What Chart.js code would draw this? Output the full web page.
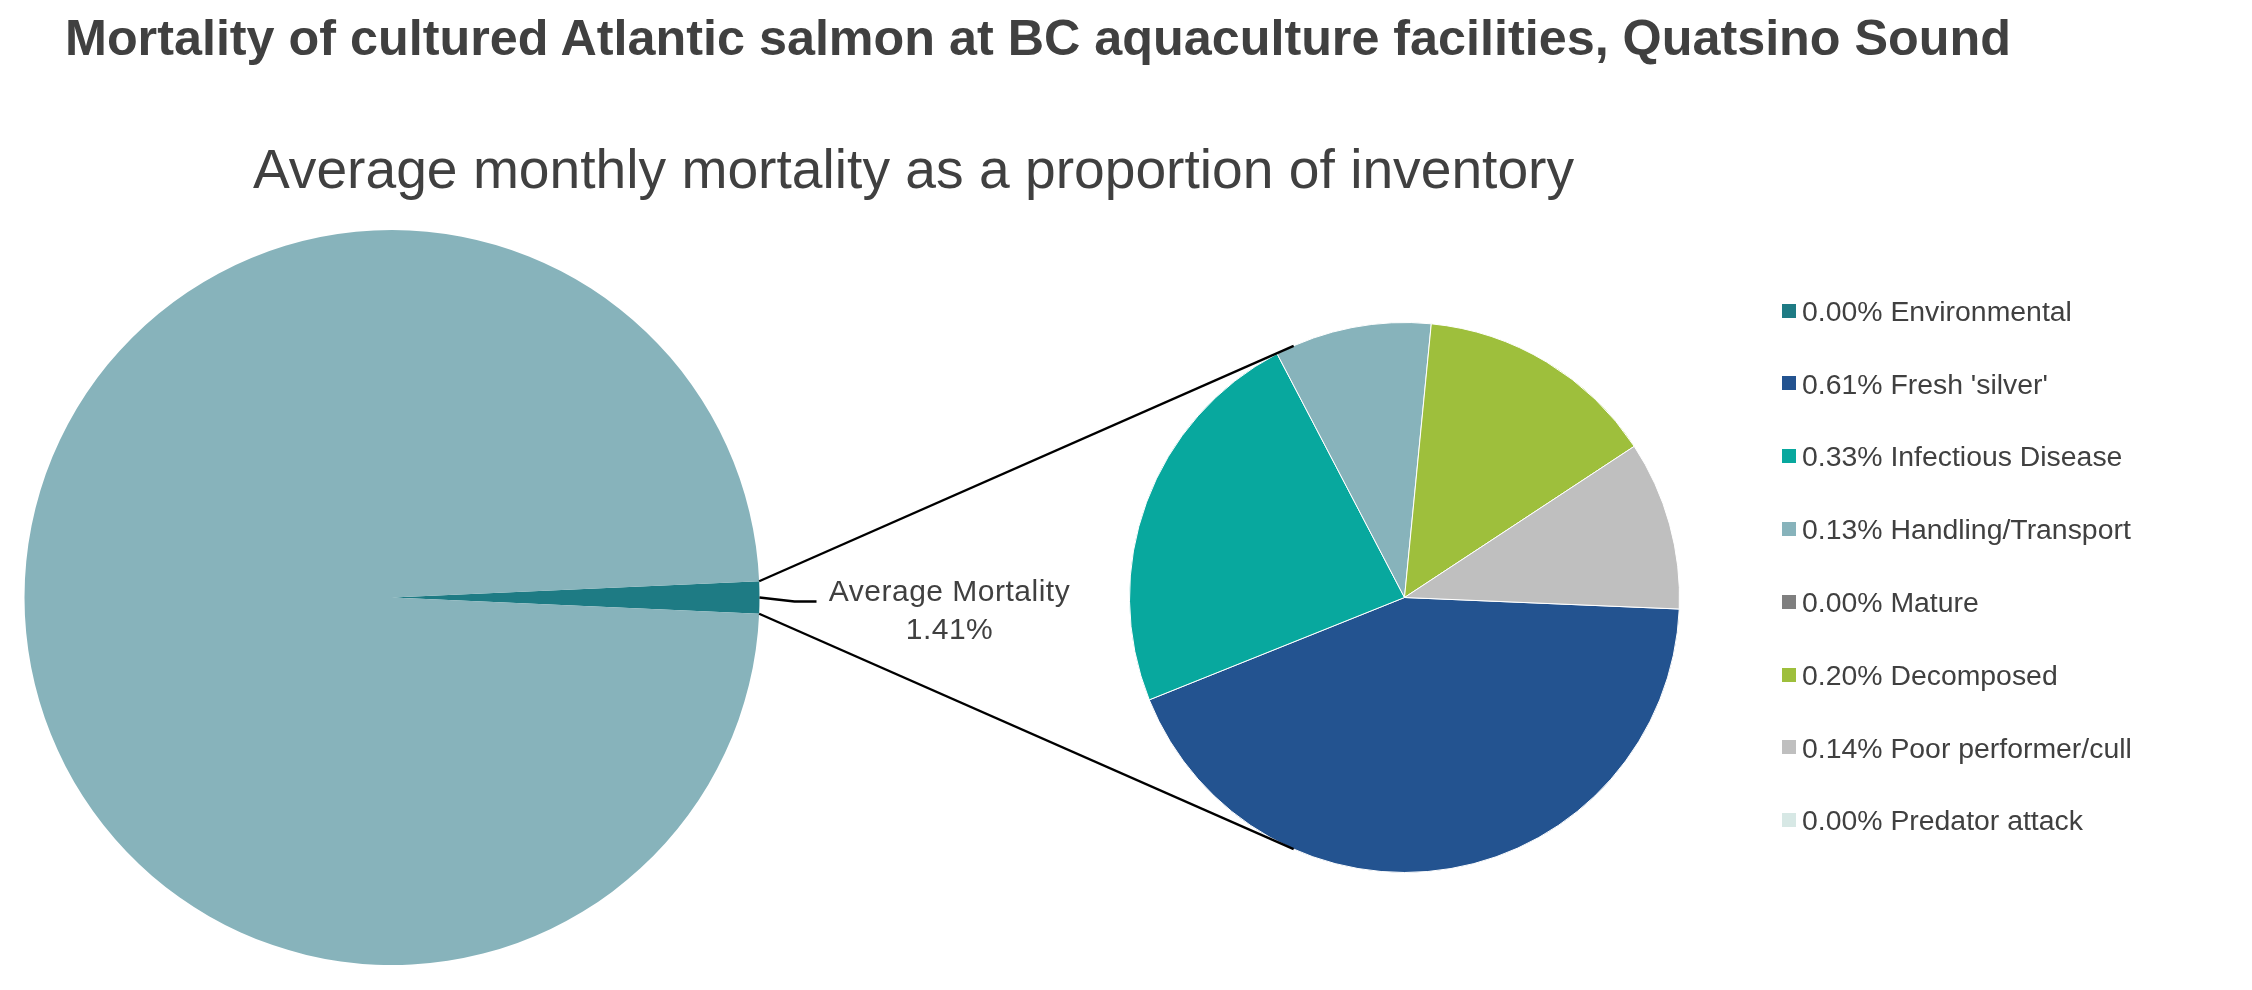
<!DOCTYPE html>
<html>
<head>
<meta charset="utf-8">
<title>Mortality of cultured Atlantic salmon - Quatsino Sound</title>
<script src="https://cdn.jsdelivr.net/npm/chart.js@4.4.1/dist/chart.umd.min.js"></script>
<style>
  html, body { margin: 0; padding: 0; background: #fff; }
  body { width: 2252px; height: 990px; position: relative; overflow: hidden;
         font-family: "Liberation Sans", Arial, sans-serif; color: #404040; }
  canvas { position: absolute; left: 0; top: 0; }
  #title { position: absolute; left: 65px; top: 13px; font-size: 50.3px; line-height: 50px;
           font-weight: bold; white-space: nowrap; }
  #subtitle { position: absolute; left: 253px; top: 142px; font-size: 55.2px; line-height: 55px;
              white-space: nowrap; }
  .lg-box { position: absolute; width: 14px; height: 14px; }
  .lg-text { position: absolute; font-size: 28.4px; line-height: 28px; white-space: nowrap; }
</style>
</head>
<body>
<div id="title">Mortality of cultured Atlantic salmon at BC aquaculture facilities, Quatsino Sound</div>
<div id="subtitle">Average monthly mortality as a proportion of inventory</div>
<canvas id="mainPie" width="2252" height="990"></canvas>
<canvas id="detailPie" width="2252" height="990"></canvas>
<div id="legend"></div>
<script>
// causes of mortality, % of inventory per month
var causes = ['Environmental', "Fresh 'silver'", 'Infectious Disease', 'Handling/Transport',
              'Mature', 'Decomposed', 'Poor performer/cull', 'Predator attack'];
var causeValues = [0.00, 0.61, 0.33, 0.13, 0.00, 0.20, 0.14, 0.00];
var causeColors = ['#1e7b84', '#235390', '#08a89e', '#87b3bb', '#7f7f7f', '#9ebf3c', '#bfbfbf', '#d7e8e5'];

// first pie: total mortality vs the rest of the inventory
var mainLabels = ['Average Mortality', 'Remaining inventory'];
var mainValues = [1.41, 98.59];
var mainColors = ['#1e7b84', '#87b3bb'];

var textColor = '#404040';

// label + leader line for the mortality slice
var mortalityLabel = {
  id: 'mortalityLabel',
  afterDraw: function(chart) {
    var ctx = chart.ctx;
    var arc = chart.getDatasetMeta(0).data[0];
    var mid = (arc.startAngle + arc.endAngle) / 2;
    var tipX = arc.x + arc.outerRadius * Math.cos(mid);
    var tipY = arc.y + arc.outerRadius * Math.sin(mid);
    ctx.save();
    ctx.strokeStyle = '#000';
    ctx.lineWidth = 2.3;
    ctx.beginPath();
    ctx.moveTo(tipX, tipY);
    ctx.lineTo(tipX + 35, tipY + 4);
    ctx.lineTo(tipX + 57, tipY + 4);
    ctx.stroke();
    ctx.fillStyle = textColor;
    ctx.font = '30px "Liberation Sans", Arial, sans-serif';
    ctx.letterSpacing = '0.5px';
    ctx.textAlign = 'center';
    ctx.textBaseline = 'alphabetic';
    ctx.fillText(mainLabels[0], tipX + 190, tipY + 3);
    ctx.fillText(mainValues[0].toFixed(2) + '%', tipX + 190, tipY + 41);
    ctx.restore();
  }
};

// lines joining the mortality slice to the breakdown pie (tangents)
var connectors = {
  id: 'connectors',
  afterDraw: function(chart) {
    var ctx = chart.ctx;
    var src = mainChart.getDatasetMeta(0).data[0];
    var dst = chart.getDatasetMeta(0).data[0];
    var cx = dst.x, cy = dst.y, r = dst.outerRadius;
    ctx.save();
    ctx.strokeStyle = '#000';
    ctx.lineWidth = 2.3;
    [[src.startAngle, 1], [src.endAngle, -1]].forEach(function(p) {
      var px = src.x + src.outerRadius * Math.cos(p[0]);
      var py = src.y + src.outerRadius * Math.sin(p[0]);
      var d = Math.hypot(px - cx, py - cy);
      var th = Math.atan2(py - cy, px - cx) + p[1] * Math.acos(r / d);
      ctx.beginPath();
      ctx.moveTo(px, py);
      ctx.lineTo(cx + r * Math.cos(th), cy + r * Math.sin(th));
      ctx.stroke();
    });
    ctx.restore();
  }
};

var mainTotal = mainValues[0] + mainValues[1];

var mainChart = new Chart(document.getElementById('mainPie'), {
  type: 'pie',
  data: {
    labels: mainLabels,
    datasets: [{ data: mainValues, backgroundColor: mainColors, borderWidth: 0 }]
  },
  options: {
    responsive: false,
    animation: false,
    events: [],
    rotation: 90 - mainValues[0] / mainTotal * 180,
    layout: { padding: { left: 24, right: 1492, top: 230, bottom: 25 } },
    plugins: { legend: { display: false }, tooltip: { enabled: false } }
  },
  plugins: [mortalityLabel]
});

var detailChart = new Chart(document.getElementById('detailPie'), {
  type: 'pie',
  data: {
    labels: causes,
    datasets: [{ data: causeValues, backgroundColor: causeColors, borderColor: '#ffffff', borderWidth: 1 }]
  },
  options: {
    responsive: false,
    animation: false,
    events: [],
    rotation: 92.4,
    layout: { padding: { left: 1129, right: 572, top: 322, bottom: 117 } },
    plugins: { legend: { display: false }, tooltip: { enabled: false } }
  },
  plugins: [connectors]
});

// legend
var legendEl = document.getElementById('legend');
causes.forEach(function(name, i) {
  var rowY = 310.5 + i * 72.8;
  var box = document.createElement('div');
  box.className = 'lg-box';
  box.style.left = '1782px';
  box.style.top = (rowY - 7) + 'px';
  box.style.background = causeColors[i];
  legendEl.appendChild(box);
  var txt = document.createElement('div');
  txt.className = 'lg-text';
  txt.style.left = '1802px';
  txt.style.top = (rowY - 13.7) + 'px';
  txt.textContent = causeValues[i].toFixed(2) + '% ' + name;
  legendEl.appendChild(txt);
});
</script>
</body>
</html>
